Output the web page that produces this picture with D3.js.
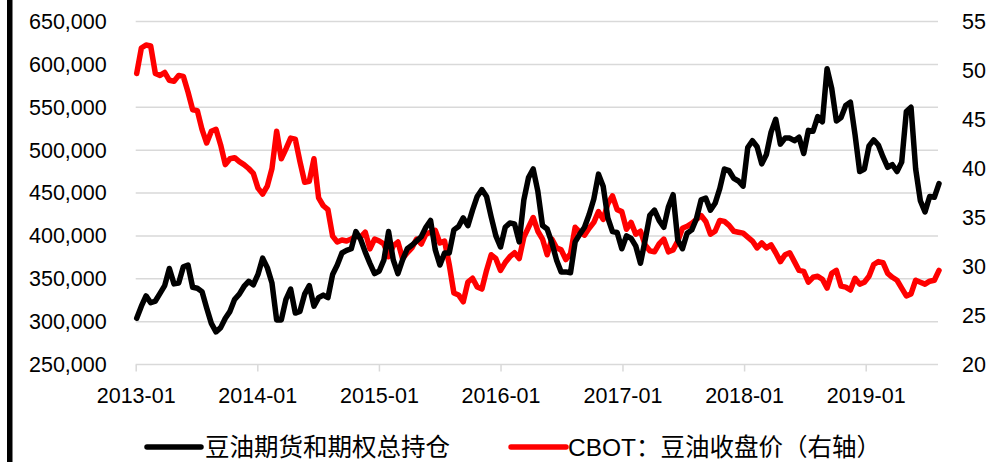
<!DOCTYPE html>
<html><head><meta charset="utf-8">
<script src="https://cdn.jsdelivr.net/npm/d3@7"></script>
<style>html,body{margin:0;padding:0;background:#fff;}svg{display:block;}</style>
</head><body>
<svg id="c" width="994" height="462"></svg>
<script>
// ---- data ----
const startDate = "2013-01-04";   // first observation, then every two weeks
const stepDays = 14;
const openInterest = [304000,318000,330000,322000,324000,333000,342000,362000,344000,345000,
364000,366000,340000,339000,335000,316000,298000,288000,293000,304000,
312000,326000,332000,341000,347000,343000,355000,374000,363000,345000,
302000,302000,326000,338000,310000,312000,332000,342000,318000,328000,
331000,328000,355000,366000,380000,383000,385000,405000,396000,381000,
368000,356000,359000,372000,405000,372000,356000,372000,385000,389000,
394000,399000,410000,418000,384000,366000,380000,380000,407000,411000,
421000,412000,430000,446000,454000,446000,422000,400000,387000,410000,
415000,414000,393000,442000,468000,478000,452000,412000,408000,392000,
372000,358000,358000,357000,393000,402000,410000,425000,443000,472000,
458000,421000,405000,404000,385000,400000,397000,388000,368000,395000,
424000,430000,418000,410000,434000,448000,395000,385000,403000,407000,
420000,442000,444000,430000,438000,455000,478000,476000,467000,464000,
458000,503000,511000,504000,484000,495000,521000,536000,507000,514000,
514000,511000,515000,496000,523000,522000,539000,533000,595000,572000,
534000,538000,552000,556000,518000,475000,478000,505000,512000,506000,
492000,480000,483000,475000,486000,545000,550000,478000,441000,428000,
446000,445000,461000];
const cbotPrice = [49.7,52.3,52.6,52.5,49.7,49.5,49.8,49.0,48.9,49.5,
49.4,47.8,46.0,45.9,44.0,42.6,43.8,44.0,42.4,40.4,
41.0,41.1,40.7,40.4,40.0,39.5,38.0,37.4,38.2,40.0,
43.8,41.0,42.0,43.1,43.0,40.7,38.6,38.7,41.0,37.0,
36.2,35.8,33.1,32.5,32.7,32.6,32.8,33.1,33.0,33.5,
31.8,32.8,32.6,32.3,31.0,32.1,32.5,30.8,31.4,31.9,
32.8,32.3,33.3,33.5,33.7,32.4,32.6,30.2,27.3,27.1,
26.4,28.4,28.8,27.9,27.7,29.6,31.2,30.8,29.6,30.4,
31.0,31.4,30.8,33.0,34.0,35.0,33.6,32.8,31.2,32.8,
31.9,31.7,30.7,31.3,34.0,33.5,33.2,33.9,34.5,35.6,
34.8,36.4,37.2,35.8,35.6,33.8,34.5,33.3,33.6,32.2,
31.6,31.5,32.3,32.8,31.5,31.7,32.6,33.9,34.1,34.4,
34.8,35.2,34.6,33.3,33.6,34.7,34.6,34.2,33.6,33.5,
33.4,33.0,32.6,31.9,32.4,31.9,32.2,31.4,30.5,31.2,
31.4,30.5,29.6,29.5,28.4,28.9,29.0,28.7,27.8,29.3,
29.6,28.0,27.9,27.6,28.8,28.2,28.4,29.0,30.2,30.5,
30.4,29.3,28.9,28.6,27.8,27.0,27.2,28.6,28.4,28.2,
28.5,28.6,29.6];
const xTickLabels = ["2013-01","2014-01","2015-01","2016-01","2017-01","2018-01","2019-01"];
const leftTicks = [250000,300000,350000,400000,450000,500000,550000,600000,650000];
const rightTicks = [20,25,30,35,40,45,50,55];
const seriesNames = ["豆油期货和期权总持仓","CBOT：豆油收盘价（右轴）"];
const seriesColors = ["#000000","#ff0000"];

// ---- build ----
const parse = d3.timeParse("%Y-%m-%d");
const parseM = d3.timeParse("%Y-%m");
const t0 = parse(startDate);
const dates = openInterest.map((_, i) => d3.timeDay.offset(t0, i * stepDays));

const svg = d3.select("#c");
const L = 135.7, R = 938, T = 21.5, B = 364.5;
const x = d3.scaleTime()
  .domain([parseM(xTickLabels[0]), parseM(xTickLabels[xTickLabels.length - 1])])
  .range([L, 865.7]);
const yL = d3.scaleLinear().domain([250000, 650000]).range([B, T]);
const yR = d3.scaleLinear().domain([20, 55]).range([B, T]);

// left black bar
svg.append("rect").attr("x", 7).attr("y", 0).attr("width", 5.5).attr("height", 462).attr("fill", "#000");

// gridlines
svg.append("g").selectAll("line").data(leftTicks.slice(1)).join("line")
  .attr("x1", L).attr("x2", R)
  .attr("y1", d => yL(d)).attr("y2", d => yL(d))
  .attr("stroke", "#d9d9d9").attr("stroke-width", 1.5);

// x axis
const xAxis = d3.axisBottom(x)
  .tickValues(xTickLabels.map(parseM))
  .tickFormat(d3.timeFormat("%Y-%m"))
  .tickSize(7).tickSizeOuter(0);
const gx = svg.append("g").attr("transform", `translate(0,${B})`).call(xAxis);
gx.select(".domain").remove();
gx.append("line").attr("x1", L).attr("x2", R).attr("y1", 0).attr("y2", 0)
  .attr("stroke", "#d9d9d9").attr("stroke-width", 1.5);
gx.selectAll(".tick line").attr("stroke", "#d9d9d9").attr("stroke-width", 1.5);
gx.selectAll(".tick text").attr("dy", 0).attr("y", 38)
  .style("font-family", "'Liberation Sans', Arial, sans-serif").style("font-size", "21.5px").attr("fill", "#000");

// left axis
const gyL = svg.append("g").attr("transform", `translate(${L},0)`)
  .call(d3.axisLeft(yL).tickValues(leftTicks).tickFormat(d3.format(",")).tickSize(0).tickPadding(29));
gyL.select(".domain").remove();
gyL.selectAll("text").style("font-family", "'Liberation Sans', Arial, sans-serif").style("font-size", "21.5px").attr("fill", "#000");

// right axis
const gyR = svg.append("g").attr("transform", `translate(${R},0)`)
  .call(d3.axisRight(yR).tickValues(rightTicks).tickFormat(d3.format("d")).tickSize(0).tickPadding(24));
gyR.select(".domain").remove();
gyR.selectAll("text").style("font-family", "'Liberation Sans', Arial, sans-serif").style("font-size", "21.5px").attr("fill", "#000");

// lines
const lineL = d3.line().x((d, i) => x(dates[i])).y(d => yL(d)).curve(d3.curveLinear);
const lineR = d3.line().x((d, i) => x(dates[i])).y(d => yR(d)).curve(d3.curveLinear);
svg.append("path").datum(cbotPrice).attr("d", lineR).attr("fill", "none")
  .attr("stroke", seriesColors[1]).attr("stroke-width", 5.5).attr("stroke-linejoin", "round").attr("stroke-linecap", "round");
svg.append("path").datum(openInterest).attr("d", lineL).attr("fill", "none")
  .attr("stroke", seriesColors[0]).attr("stroke-width", 5.5).attr("stroke-linejoin", "round").attr("stroke-linecap", "round");

// legend
const legend = [
  {name: seriesNames[0], color: seriesColors[0], x1: 147, x2: 201, tx: 205},
  {name: seriesNames[1], color: seriesColors[1], x1: 511, x2: 566, tx: 568}
];
const lg = svg.append("g");
legend.forEach(l => {
  lg.append("line").attr("x1", l.x1).attr("x2", l.x2).attr("y1", 447).attr("y2", 447)
    .attr("stroke", l.color).attr("stroke-width", 5.5).attr("stroke-linecap", "round");
  lg.append("text").attr("x", l.tx).attr("y", 456).text(l.name)
    .style("font-family", "'Liberation Sans', 'Noto Sans CJK SC', sans-serif").style("font-size", "24.5px").attr("fill", "#000");
});
</script>
</body></html>
